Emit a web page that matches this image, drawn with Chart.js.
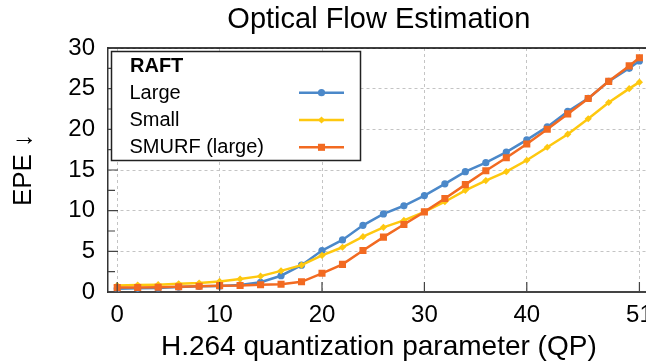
<!DOCTYPE html>
<html>
<head>
<meta charset="utf-8">
<script src="https://cdn.jsdelivr.net/npm/chart.js@4.4.1/dist/chart.umd.min.js"></script>
<style>
  html, body { margin: 0; padding: 0; background: #fff; overflow: hidden; }
  #wrap { width: 662px; height: 364px; }
</style>
</head>
<body>
<div id="wrap"><canvas id="c"></canvas></div>
<script>
// H.264 QP values sampled in the plot
var qp = [0, 2, 4, 6, 8, 10, 12, 14, 16, 18, 20, 22, 24, 26, 28, 30, 32, 34, 36, 38, 40, 42, 44, 46, 48, 50, 51];

// EPE per series
var raftLarge = [0.4, 0.45, 0.5, 0.6, 0.7, 0.75, 0.85, 1.2, 2.0, 3.3, 5.1, 6.4, 8.2,
                 9.6, 10.6, 11.85, 13.3, 14.8, 15.9, 17.2, 18.7, 20.3, 22.2, 23.8, 25.9, 27.5, 28.4];
var raftSmall = [0.8, 0.85, 0.9, 1.0, 1.1, 1.3, 1.6, 1.95, 2.6, 3.3, 4.5, 5.5, 6.8,
                 7.95, 8.8, 9.85, 11.1, 12.5, 13.7, 14.8, 16.2, 17.8, 19.4, 21.3, 23.3, 25.0, 25.8];
var smurfLarge = [0.54, 0.55, 0.58, 0.65, 0.7, 0.78, 0.8, 0.9, 0.95, 1.25, 2.3, 3.4, 5.1,
                  6.75, 8.3, 9.85, 11.5, 13.2, 14.9, 16.5, 18.2, 20.0, 21.9, 23.8, 25.9, 27.8, 28.8];

var xTicks = [0, 10, 20, 30, 40, 51];
var yTicks = [0, 5, 10, 15, 20, 25, 30];
var legendTitle = 'RAFT';
var seriesNames = ['Large', 'Small', 'SMURF (large)'];

var FONT = "'Liberation Sans', Arial, Helvetica, sans-serif";
var BLUE = '#4b88c9', YELLOW = '#fec80f', ORANGE = '#f26a21';

function pts(ys) {
  return qp.map(function(x, i) { return {x: x, y: ys[i]}; });
}

function series(label, ys, color, style, radius, order) {
  return {
    label: label,
    data: pts(ys),
    borderColor: color,
    backgroundColor: color,
    borderWidth: 2.5,
    pointStyle: style,
    pointRadius: radius,
    pointBorderWidth: 0,
    pointBackgroundColor: color,
    tension: 0,
    order: order
  };
}

// frame, inward tick marks and the boxed legend
var decor = {
  id: 'decor',
  afterDraw: function(chart) {
    var ctx = chart.ctx, a = chart.chartArea;
    var xs = chart.scales.x, ys = chart.scales.y;
    ctx.save();

    ctx.strokeStyle = '#000';
    ctx.lineWidth = 1.3;
    ctx.beginPath();
    ctx.moveTo(a.left, a.top);
    ctx.lineTo(a.right, a.top);
    ctx.stroke();

    ctx.strokeStyle = '#444';
    ctx.lineWidth = 1.2;
    ctx.beginPath();
    yTicks.forEach(function(v, i) {
      var py = ys.getPixelForValue(v);
      ctx.moveTo(a.left, py); ctx.lineTo(a.left + 10, py);
      if (i > 0) {
        var pm = ys.getPixelForValue(v - 2.5);
        ctx.moveTo(a.left, pm); ctx.lineTo(a.left + 7, pm);
      }
    });
    xTicks.forEach(function(v) {
      var px = xs.getPixelForValue(v);
      ctx.moveTo(px, a.bottom); ctx.lineTo(px, a.bottom - 10);
    });
    ctx.stroke();

    // legend box
    var bx = 111.5, by = 51.5, bw = 249, bh = 109;
    ctx.fillStyle = '#fff';
    ctx.fillRect(bx, by, bw, bh);
    ctx.strokeStyle = '#222';
    ctx.lineWidth = 1.5;
    ctx.strokeRect(bx, by, bw, bh);

    ctx.fillStyle = '#000';
    ctx.textBaseline = 'alphabetic';
    ctx.textAlign = 'left';
    ctx.font = 'bold 20px ' + FONT;
    ctx.fillText(legendTitle, 130, 71.5);
    ctx.font = '20px ' + FONT;
    chart.data.datasets.forEach(function(ds, i) {
      var ty = 98.5 + i * 27.3;
      ctx.fillStyle = '#000';
      ctx.fillText(seriesNames[i], 129.5, ty);
      var ly = ty - 5.8;
      ctx.strokeStyle = ds.borderColor;
      ctx.lineWidth = 2.5;
      ctx.beginPath();
      ctx.moveTo(299, ly); ctx.lineTo(344, ly);
      ctx.stroke();
      ctx.fillStyle = ds.borderColor;
      Chart.helpers.drawPoint(ctx, {pointStyle: ds.pointStyle, radius: ds.pointRadius, rotation: 0, borderWidth: 0}, 321.5, ly);
    });
    ctx.restore();
  }
};

new Chart(document.getElementById('c'), {
  type: 'line',
  data: {
    datasets: [
      series(seriesNames[0], raftLarge, BLUE, 'circle', 3.6, 3),
      series(seriesNames[1], raftSmall, YELLOW, 'rectRot', 3.6, 2),
      series(seriesNames[2], smurfLarge, ORANGE, 'rect', 5, 1)
    ]
  },
  options: {
    responsive: true,
    maintainAspectRatio: false,
    animation: false,
    layout: {padding: 0},
    plugins: {
      legend: {display: false},
      tooltip: {enabled: false},
      title: {
        display: true,
        text: 'Optical Flow Estimation',
        fullSize: false,
        color: '#000',
        font: {family: FONT, size: 29, weight: 'normal'},
        padding: {top: 3, bottom: 10.2}
      }
    },
    scales: {
      x: {
        type: 'linear',
        min: -0.9,
        max: 52,
        afterBuildTicks: function(s) { s.ticks = xTicks.map(function(v) { return {value: v}; }); },
        afterFit: function(s) { s.height = 72; },
        grid: {color: '#c4c4c4', lineWidth: 1, drawTicks: false},
        border: {display: true, color: '#444', width: 2, dash: [3, 3]},
        ticks: {color: '#000', font: {family: FONT, size: 24}, padding: 9, maxRotation: 0, autoSkip: false},
        title: {
          display: true,
          text: 'H.264 quantization parameter (QP)',
          color: '#000',
          font: {family: FONT, size: 28},
          padding: {top: 0, bottom: 0}
        }
      },
      y: {
        min: 0,
        max: 30,
        afterBuildTicks: function(s) { s.ticks = yTicks.map(function(v) { return {value: v}; }); },
        afterFit: function(s) { s.width = 108; },
        grid: {color: '#c4c4c4', lineWidth: 1, drawTicks: false},
        border: {display: true, color: '#333', width: 1.5, dash: [3, 3]},
        ticks: {color: '#000', font: {family: FONT, size: 24}, padding: 13},
        title: {
          display: true,
          text: 'EPE \u2193',
          color: '#000',
          font: {family: FONT, size: 26},
          padding: {top: 8, bottom: 0}
        }
      }
    }
  },
  plugins: [decor]
});
</script>
</body>
</html>
